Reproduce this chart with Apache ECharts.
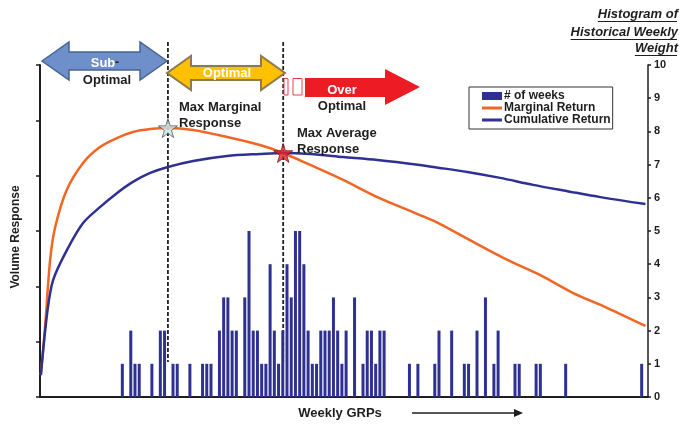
<!DOCTYPE html>
<html><head><meta charset="utf-8">
<script src="https://cdn.jsdelivr.net/npm/echarts@6.0.0/dist/echarts.min.js"></script>
<style>html,body{margin:0;padding:0;background:#fff}#c{width:683px;height:426px}</style>
</head><body><div id="c"></div>
<script>
// ---- data ----
const weekSlots = 144; // number of GRP bins on the x axis
const barIndex = [19,21,22,23,26,28,29,31,32,35,38,39,40,42,43,44,45,46,48,49,50,51,52,53,54,55,56,57,58,59,60,61,62,63,64,65,66,67,68,69,70,71,72,74,76,77,78,79,80,81,87,89,93,94,97,100,101,103,105,107,108,112,113,117,118,124,142];
const barWeeks = [1,2,1,1,1,2,2,1,1,1,1,1,1,2,3,3,2,2,3,5,2,2,1,1,4,2,1,2,4,3,5,5,4,2,1,1,2,2,2,3,2,1,2,3,1,2,2,1,2,2,1,1,1,2,2,1,1,2,3,1,2,1,1,1,1,1,1];
const marginalX = [0.2,1.2,2.4,3.6,6.3,10.2,14.2,18.2,22.0,26.1,30.3,36.3,44.3,52.1,57.6,64.0,71.8,79.9,90.0,94.8,102.6,110.7,118.5,126.3,134.4,143.4];
const marginalY = [0.66,2.11,4.13,5.12,6.23,7.05,7.53,7.80,7.98,8.07,8.10,8.04,7.83,7.59,7.35,6.99,6.54,6.02,5.48,5.21,4.67,4.13,3.67,3.13,2.68,2.14];
const cumulativeX = [0.2,1.7,3.1,6.4,10.2,14.2,18.2,22.0,26.1,30.3,36.3,44.3,52.1,57.6,64.0,71.8,79.9,90.0,93.1,101.2,109.0,116.8,124.9,132.7,143.4];
const cumulativeY = [0.66,2.53,3.52,4.43,5.24,5.72,6.14,6.48,6.75,6.93,7.11,7.26,7.32,7.35,7.32,7.23,7.14,6.99,6.93,6.78,6.60,6.39,6.20,6.02,5.81];
const maxMarginal = [30.3, 8.1];
const maxAverage = [57.6, 7.35];
const seriesNames = ['# of weeks', 'Marginal Return', 'Cumulative Return'];
const titleLines = ['Histogram of', 'Historical Weekly', 'Weight'];

// ---- build series data ----
const categories = Array.from({length: weekSlots}, (_, i) => String(i + 1));
const hist = new Array(weekSlots).fill(0);
barIndex.forEach((i, k) => { hist[i] = barWeeks[k]; });
const marginal = marginalX.map((x, i) => [x, marginalY[i]]);
const cumulative = cumulativeX.map((x, i) => [x, cumulativeY[i]]);

const FONT = '"Liberation Sans", Arial, sans-serif';
const BLUE = '#2e3192', ORANGE = '#f26522', INK = '#1e1e1e';
const STAR = 'path://M50,0 L61,35 L98,35 L68,57 L79,91 L50,70 L21,91 L32,57 L2,35 L39,35 Z';
const LINE_ICON = 'path://M0,0 L40,0 L40,6 L0,6 Z';

const chart = echarts.init(document.getElementById('c'), null, {renderer: 'canvas'});
const option = {
  animation: false,
  backgroundColor: '#fff',
  grid: {left: 40, right: 35, top: 65, bottom: 29},
  legend: {
    data: [{name: seriesNames[0], icon: 'rect'},
           {name: seriesNames[1], icon: LINE_ICON},
           {name: seriesNames[2], icon: LINE_ICON}],
    orient: 'vertical', left: 469, top: 87, symbolKeepAspect: true,
    padding: [3, 2, 3, 13], itemGap: 0, itemWidth: 20, itemHeight: 8,
    borderColor: '#333', borderWidth: 1, backgroundColor: '#fff',
    textStyle: {fontFamily: FONT, fontWeight: 'bold', fontSize: 12, color: INK, lineHeight: 12, padding: [0, 0, 0, -3]}
  },
  xAxis: [
    {type: 'category', data: categories, boundaryGap: true,
     axisLine: {lineStyle: {color: INK, width: 2}},
     axisTick: {interval: 0, length: 3, lineStyle: {color: INK, width: 1.5}},
     axisLabel: {show: false}, splitLine: {show: false}},
    {type: 'value', min: 0, max: weekSlots, show: false, splitLine: {show: false}}
  ],
  yAxis: [
    {type: 'value', position: 'left', min: 0, max: 6, interval: 1,
     axisLine: {show: true, lineStyle: {color: INK, width: 2}},
     axisTick: {show: true, length: 4, lineStyle: {color: INK, width: 1.5}},
     axisLabel: {show: false}, splitLine: {show: false}},
    {type: 'value', position: 'right', min: 0, max: 10, interval: 1,
     axisLine: {show: true, lineStyle: {color: INK, width: 1.5}},
     axisTick: {show: true, length: 3, lineStyle: {color: INK, width: 1.5}},
     axisLabel: {margin: 6, fontFamily: FONT, fontWeight: 'bold', fontSize: 11, color: INK},
     splitLine: {show: false}}
  ],
  series: [
    {name: seriesNames[0], type: 'bar', xAxisIndex: 0, yAxisIndex: 1, data: hist,
     barWidth: 3, itemStyle: {color: BLUE}, z: 2},
    {name: seriesNames[1], type: 'line', xAxisIndex: 1, yAxisIndex: 1, data: marginal,
     symbol: 'none', smooth: 0.3,
     lineStyle: {color: ORANGE, width: 2.5}, itemStyle: {color: ORANGE}, z: 3},
    {name: seriesNames[2], type: 'line', xAxisIndex: 1, yAxisIndex: 1, data: cumulative,
     symbol: 'none', smooth: 0.3,
     lineStyle: {color: BLUE, width: 2.5}, itemStyle: {color: BLUE}, z: 3},
    {name: 'stars', type: 'scatter', xAxisIndex: 1, yAxisIndex: 1,
     data: [
       {value: maxMarginal, itemStyle: {color: '#c9e6e6', borderColor: '#555', borderWidth: 1}},
       {value: maxAverage, itemStyle: {color: '#e8202a', borderColor: '#7a1414', borderWidth: 1}}
     ],
     symbol: STAR, symbolSize: [19, 19], z: 10}
  ]
};
chart.setOption(option);

// ---- annotations ----
const p1 = chart.convertToPixel({seriesIndex: 3}, maxMarginal);
const p2 = chart.convertToPixel({seriesIndex: 3}, maxAverage);
const ctx = document.createElement('canvas').getContext('2d');
const titleFont = 'italic bold 13px ' + FONT;
ctx.font = titleFont;

const txt = (text, x, y, fill, font, align) => ({type: 'text', z: 20, style: {
  text, x, y, fill, font: font || ('bold 13px ' + FONT), align: align || 'left', verticalAlign: 'middle'}});

const g = [];
// dashed guide lines through the two optimum points
[p1, p2].forEach(p => g.push({type: 'line', z: 1, shape: {x1: p[0], y1: 42, x2: p[0], y2: 362},
  style: {stroke: '#222', lineWidth: 1.8, lineDash: [4, 2]}}));
// Sub-optimal double arrow
g.push({type: 'polygon', z: 5, shape: {points: [[42,61],[69,42],[69,52],[140,52],[140,42],[167,61],[140,80],[140,70],[69,70],[69,80]]},
  style: {fill: '#6f8fcb', stroke: '#48658f', lineWidth: 1.5}});
// Optimal double arrow
g.push({type: 'polygon', z: 5, shape: {points: [[167,73],[191,56],[191,66],[261,66],[261,56],[285,73],[261,90],[261,80],[191,80],[191,90]]},
  style: {fill: '#ffc000', stroke: '#8c7a50', lineWidth: 2}});
// Over-optimal arrow
g.push({type: 'polygon', z: 5, shape: {points: [[305,78],[385,78],[385,69],[420,87],[385,105],[385,97],[305,97]]},
  style: {fill: '#ed1c24'}});
g.push({type: 'rect', z: 5, shape: {x: 284, y: 78.5, width: 4, height: 16.5}, style: {fill: '#fff', stroke: '#e8404a', lineWidth: 1}});
g.push({type: 'rect', z: 5, shape: {x: 293, y: 78.5, width: 9, height: 16.5}, style: {fill: '#fff', stroke: '#e8404a', lineWidth: 1}});
g.push(txt('Sub', 103, 63, '#fff', 'bold 13px ' + FONT, 'center'));
g.push(txt('-', 117, 62, INK, 'bold 13px ' + FONT, 'center'));
g.push(txt('Optimal', 107, 80, INK, 'bold 13px ' + FONT, 'center'));
g.push(txt('Optimal', 227, 73, '#fff', 'bold 13px ' + FONT, 'center'));
g.push(txt('Over', 342, 90, '#fff', 'bold 13px ' + FONT, 'center'));
g.push(txt('Optimal', 342, 106, INK, 'bold 13px ' + FONT, 'center'));
g.push(txt('Max Marginal', 179, 107, INK));
g.push(txt('Response', 179, 123, INK));
g.push(txt('Max Average', 297, 133, INK));
g.push(txt('Response', 297, 149, INK));
// title (right aligned, underlined)
[14, 32, 48].forEach((y, i) => {
  g.push(txt(titleLines[i], 678, y, INK, titleFont, 'right'));
  const w = ctx.measureText(titleLines[i]).width;
  g.push({type: 'line', z: 20, shape: {x1: 678 - w, y1: y + 7.5, x2: 677, y2: y + 7.5}, style: {stroke: INK, lineWidth: 1.2}});
});
// axis titles
g.push({type: 'text', z: 20, x: 16, y: 237, rotation: Math.PI / 2, style: {
  text: 'Volume Response', x: 0, y: 0, fill: INK, font: 'bold 12px ' + FONT, align: 'center', verticalAlign: 'middle'}});
g.push(txt('Weekly GRPs', 340, 413, INK, 'bold 13px ' + FONT, 'center'));
g.push({type: 'line', z: 20, shape: {x1: 412, y1: 413, x2: 516, y2: 413}, style: {stroke: INK, lineWidth: 1.5}});
g.push({type: 'polygon', z: 20, shape: {points: [[514,409],[523,413],[514,417]]}, style: {fill: INK}});

chart.setOption({graphic: g});
</script></body></html>
